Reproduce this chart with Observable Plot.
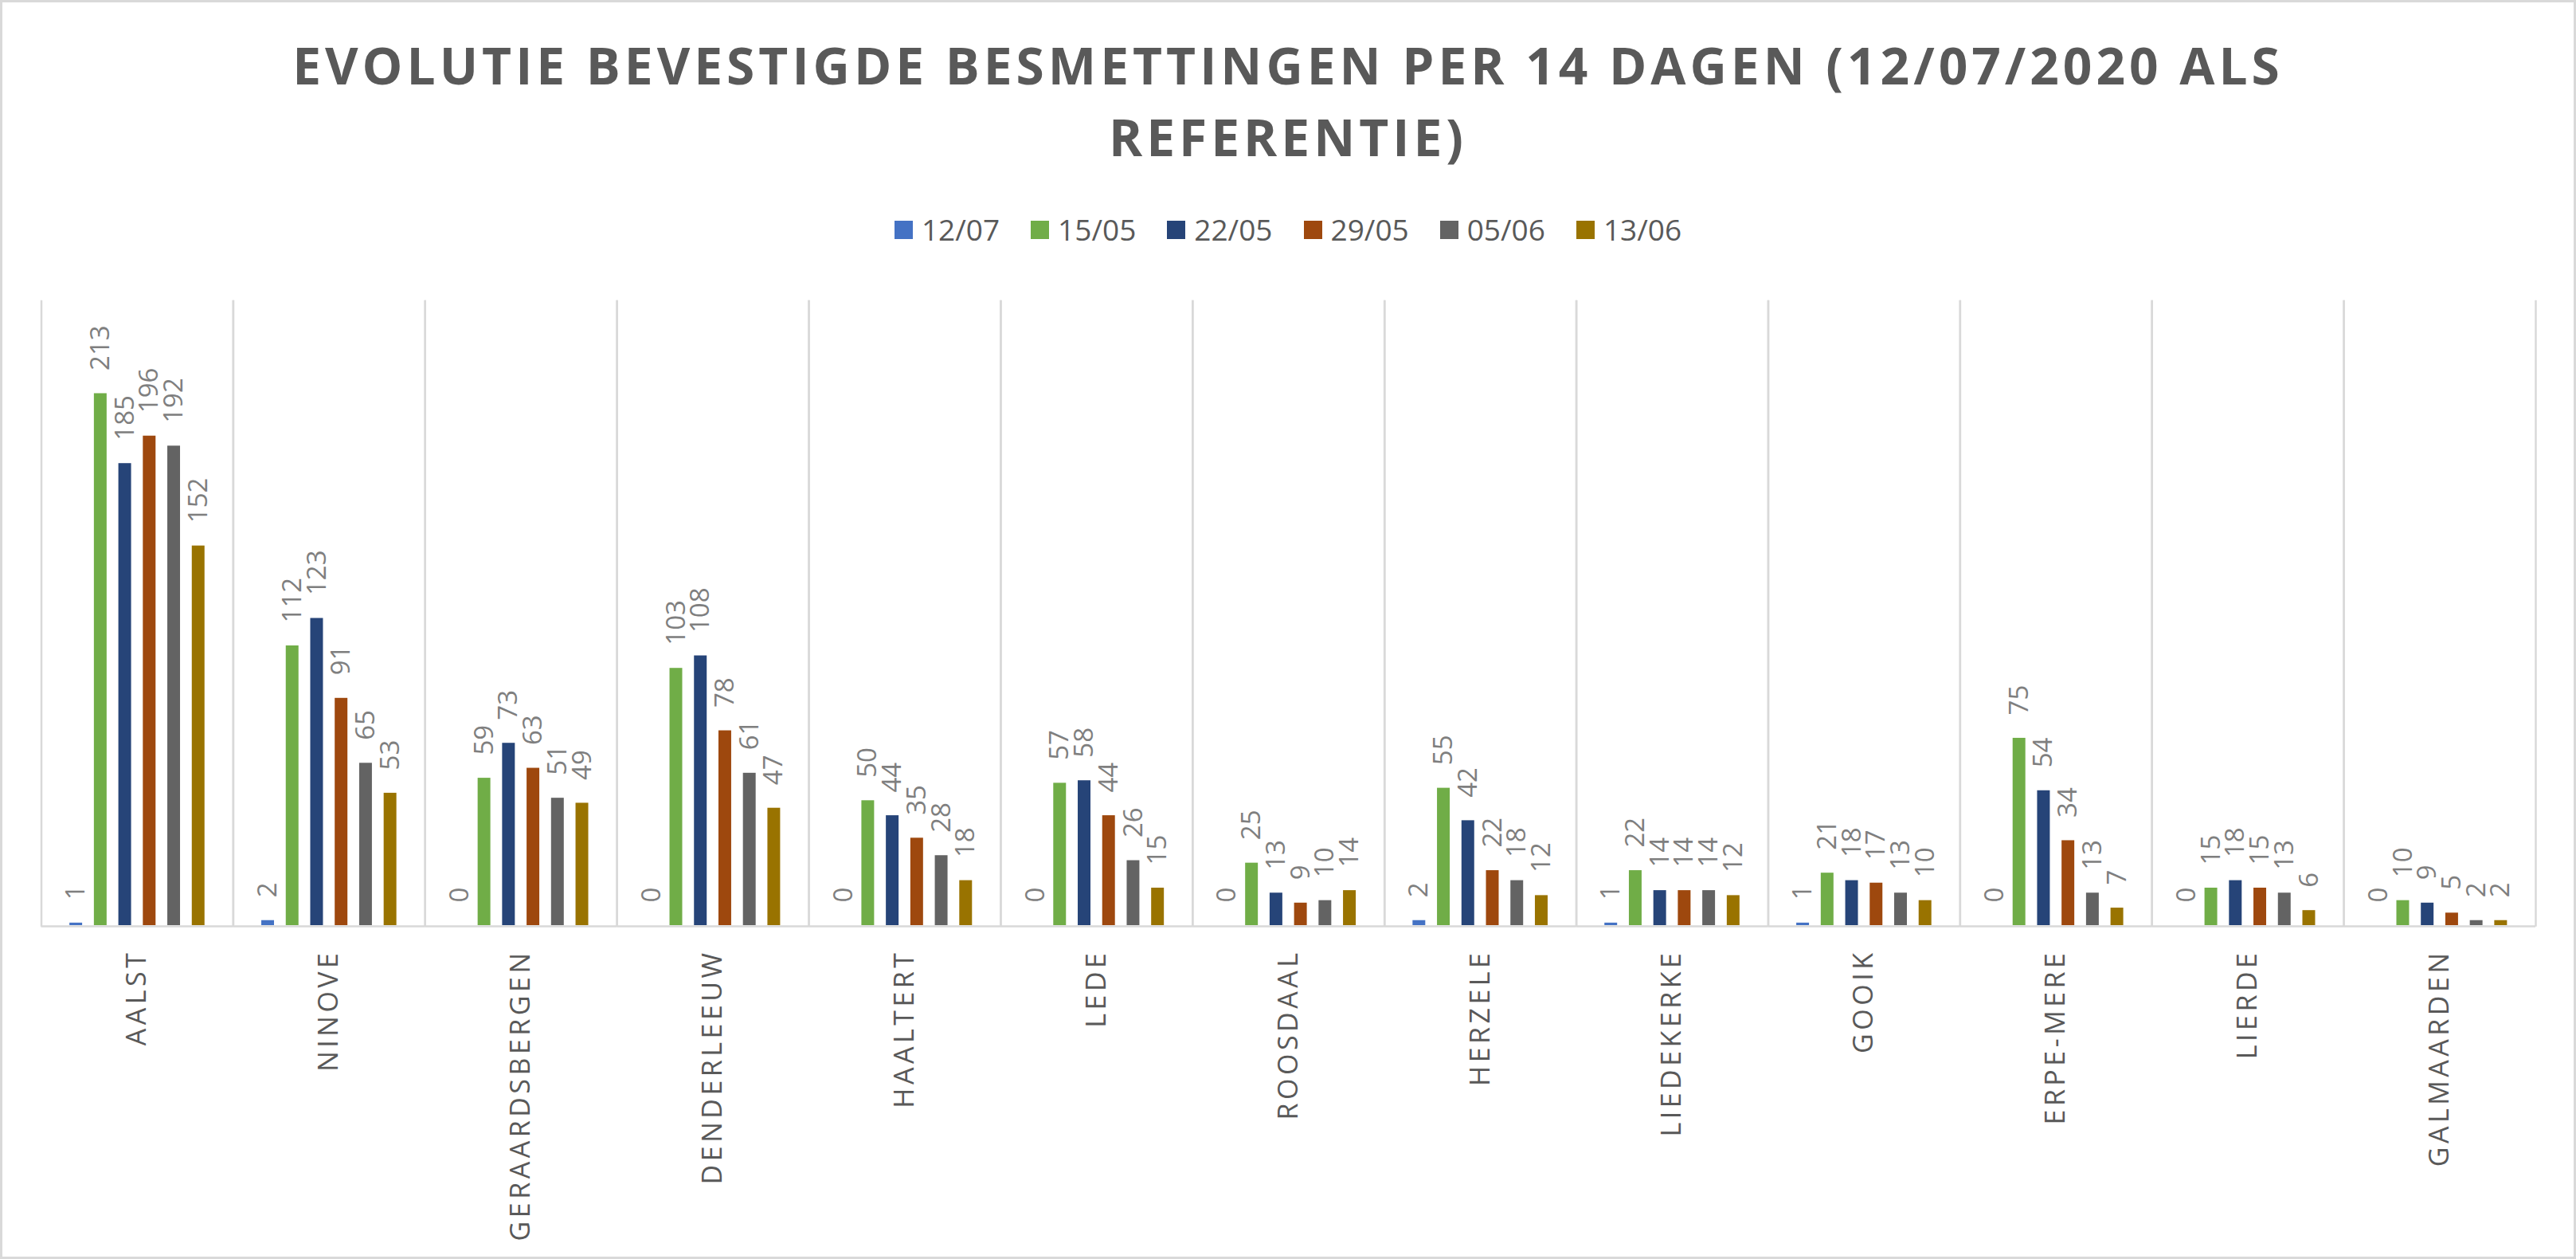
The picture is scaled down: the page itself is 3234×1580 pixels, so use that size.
<!DOCTYPE html>
<html><head><meta charset="utf-8">
<script src="https://cdn.jsdelivr.net/npm/d3@7"></script>
<script src="https://cdn.jsdelivr.net/npm/@observablehq/plot@0.6"></script>
<style>
html,body{margin:0;padding:0;background:#fff;overflow:hidden}
#wrap{position:relative;width:3234px;height:1580px;background:#fff;font-family:"Open Sans",sans-serif}
#border{position:absolute;left:0;top:0;width:3234px;height:1580px;border:3px solid #d9d9d9;box-sizing:border-box;pointer-events:none;z-index:5}
#title{position:absolute;left:0;width:3234px;top:37px;text-align:center;color:#595959;font-weight:700;font-size:64px;line-height:90px;letter-spacing:5px;white-space:nowrap}
#legend{position:absolute;left:0;width:3234px;top:268px;display:flex;justify-content:center;align-items:center;gap:39px;color:#595959;font-size:37px;line-height:40px}
.item{display:flex;align-items:center;gap:11px}
.sw{width:23px;height:23px;display:inline-block}
#chart{position:absolute;left:0;top:330px}
.citylab text, text.citylab, g.citylab text{letter-spacing:4.5px}
</style></head>
<body><div id="wrap"><div id="title"></div><div id="legend"></div><div id="chart"></div><div id="border"></div></div>
<script>
// ---- data ----
const titleLines = ["EVOLUTIE BEVESTIGDE BESMETTINGEN PER 14 DAGEN (12/07/2020 ALS", "REFERENTIE)"];
const cities = ["AALST","NINOVE","GERAARDSBERGEN","DENDERLEEUW","HAALTERT","LEDE","ROOSDAAL","HERZELE","LIEDEKERKE","GOOIK","ERPE-MERE","LIERDE","GALMAARDEN"];
const seriesNames = ["12/07","15/05","22/05","29/05","05/06","13/06"];
const seriesColors = ["#4472c4","#70ad47","#264478","#9e480e","#636363","#997300"];
const s1207 = [1,2,0,0,0,0,0,2,1,1,0,0,0];
const s1505 = [213,112,59,103,50,57,25,55,22,21,75,15,10];
const s2205 = [185,123,73,108,44,58,13,42,14,18,54,18,9];
const s2905 = [196,91,63,78,35,44,9,22,14,17,34,15,5];
const s0506 = [192,65,51,61,28,26,10,18,14,13,13,13,2];
const s1306 = [152,53,49,47,18,15,14,12,12,10,7,6,2];
const seriesValues = [s1207,s1505,s2205,s2905,s0506,s1306];

// ---- title ----
const t = document.getElementById("title");
titleLines.forEach(l => { const d = document.createElement("div"); d.textContent = l; t.appendChild(d); });

// ---- legend ----
const lg = document.getElementById("legend");
seriesNames.forEach((s, i) => {
  const it = document.createElement("div"); it.className = "item";
  const sw = document.createElement("span"); sw.className = "sw"; sw.style.background = seriesColors[i];
  const tx = document.createElement("span"); tx.textContent = s;
  it.appendChild(sw); it.appendChild(tx); lg.appendChild(it);
});

// ---- table ----
const data = [];
seriesValues.forEach((vals, si) => vals.forEach((v, ci) => data.push({city: cities[ci], series: seriesNames[si], value: v})));

const plot = Plot.plot({
  width: 3234, height: 1241,
  marginTop: 47.5, marginBottom: 410, marginLeft: 51.5, marginRight: 51,
  style: {background: "transparent", overflow: "visible", fontFamily: "Open Sans"},
  fx: {domain: cities, padding: 0, axis: null, round: false},
  x: {domain: seriesNames, paddingInner: 0.48, paddingOuter: 1.16, axis: null, round: false},
  y: {domain: [0, 250], axis: null},
  color: {domain: seriesNames, range: seriesColors},
  marks: [
    Plot.frame({anchor: "left", stroke: "#d9d9d9", strokeWidth: 2.5}),
    Plot.frame({anchor: "right", stroke: "#d9d9d9", strokeWidth: 2.5}),
    Plot.barY(data, {fx: "city", x: "series", y: "value", fill: "series"}),
    Plot.ruleY([0], {stroke: "#d9d9d9", strokeWidth: 2.5, dy: 1}),
    Plot.text(data, {fx: "city", x: "series", y: "value", text: d => String(d.value), rotate: -90,
      textAnchor: "start", lineAnchor: "middle", dy: -29, fill: "#7f7f7f", fontSize: 33}),
    Plot.text(cities, {fx: d => d, frameAnchor: "bottom", text: d => d, rotate: -90,
      textAnchor: "end", lineAnchor: "middle", dy: 30, fill: "#595959", fontSize: 34,
      className: "citylab", ariaLabel: "city-labels"})
  ]
});
d3.select(plot).selectAll('text[aria-label="city-labels"], g[aria-label="city-labels"] text, .citylab text').style("letter-spacing", "4.5px");
document.getElementById("chart").appendChild(plot);
</script>
</body></html>
